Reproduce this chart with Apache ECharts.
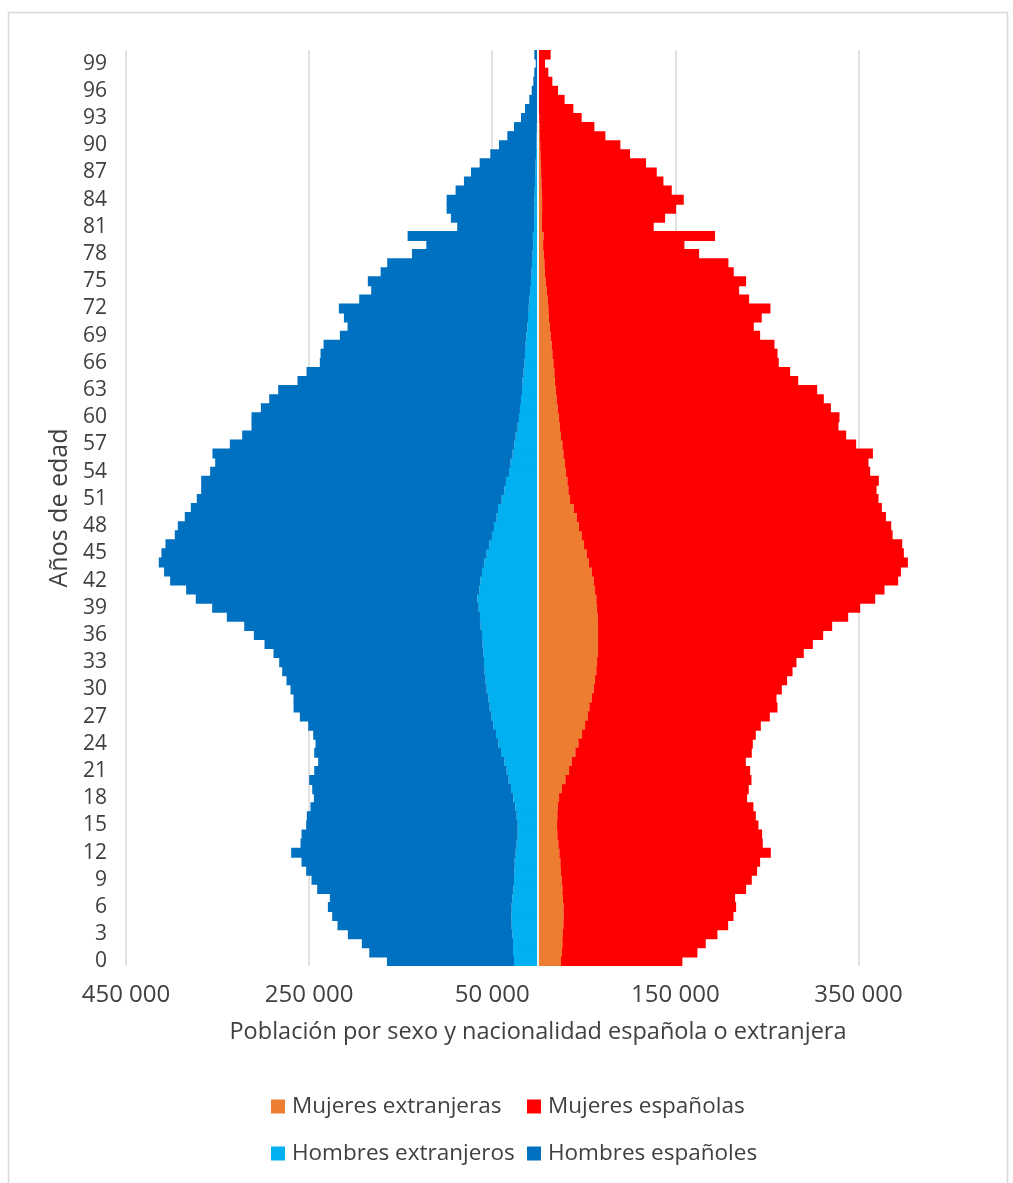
<!DOCTYPE html>
<html>
<head>
<meta charset="utf-8">
<script src="https://cdn.jsdelivr.net/npm/echarts@6/dist/echarts.min.js"></script>
<style>
html,body{margin:0;padding:0;background:#fff;}
#chart{width:1013px;height:1183px;}
</style>
</head>
<body>
<div id="chart"></div>
<script>
// Ages 0 .. 100 (the top row, 100, is "100 y más")
const edades = ["0","1","2","3","4","5","6","7","8","9","10","11","12","13","14","15","16","17","18","19","20","21","22","23","24","25","26","27","28","29","30","31","32","33","34","35","36","37","38","39","40","41","42","43","44","45","46","47","48","49","50","51","52","53","54","55","56","57","58","59","60","61","62","63","64","65","66","67","68","69","70","71","72","73","74","75","76","77","78","79","80","81","82","83","84","85","86","87","88","89","90","91","92","93","94","95","96","97","98","99","100"];

const hombresEspanoles = [138800,157000,165100,179600,190200,195700,200700,199200,214200,221200,
227300,232800,245200,236100,236100,231000,229200,223700,217800,217100,
217800,210200,203300,204000,199700,199600,202200,209100,214200,212700,
214200,217500,221100,223700,229100,238200,249200,258200,276500,291100,
307500,320200,338800,347200,355500,355200,353700,346400,345300,340600,
335500,333000,331100,332900,326400,322700,327900,310700,298700,290700,
292100,283000,275000,266300,245900,237100,223400,223300,220700,203700,
196300,201100,207300,185800,173500,178200,164800,158100,131800,116600,
136800,83900,91000,95800,95900,86400,77700,70300,61100,49900,
40700,31900,24900,17600,13400,8900,6450,4750,3750,2350,3800];

const hombresExtranjeros = [26200,27300,27300,28100,28800,29100,28800,28100,27000,26200,
25900,25500,24400,23300,22200,22200,23300,24800,27000,29500,
32100,34200,36800,40400,43300,45900,48800,51000,52800,54300,
56100,57200,58300,59000,59800,60500,61200,62700,63400,64800,
66300,64100,63000,61200,58700,56100,53200,50300,48100,45200,
43700,39700,36800,35000,31700,29900,27700,25900,24400,22200,
20800,19700,18600,17500,16800,15700,14900,14200,13500,12700,
11700,10900,10200,9500,8700,7650,7100,6600,5900,5400,
5600,4300,4100,4000,3900,3600,3200,2900,2600,2200,
1900,1600,1300,1000,800,600,450,350,250,150,200];

const mujeresExtranjeras = [25100,26200,26600,26900,27700,28000,28000,27300,26600,25900,
25100,24400,23300,22200,21100,20800,21100,21500,23000,26200,
29900,33900,36800,40800,44100,48100,51400,54300,56100,58700,
60800,62300,63700,64500,65600,65600,65600,65600,65200,64500,
63700,62300,60800,58700,55700,53200,50300,47700,44800,42300,
39000,35000,33200,32100,30600,29500,27700,26600,25100,24000,
23000,21500,20400,19700,18600,17800,16800,15700,14900,13800,
13100,12000,11300,10600,9500,8500,7600,7000,6200,5600,
6000,4300,4400,4500,4500,4100,3700,3400,3100,2700,
2400,2000,1700,1300,1000,800,600,450,350,200,300];

const mujeresEspanolas = [132600,147900,156600,169100,180000,185500,188400,188000,200700,207600,
214200,218200,231000,223300,223700,220000,216800,213800,205400,204000,
203300,197800,190200,192700,190500,189800,192000,198900,205500,201800,
205500,209800,214300,217800,224700,234600,245900,255700,273600,287400,
304600,316200,332600,337700,348300,346400,347500,339600,341000,337700,
336600,336900,336600,340200,332200,331500,338100,320900,311500,304200,
306300,298400,291800,285200,265600,257600,246200,245900,243400,228800,
222600,232400,242600,220000,210200,218800,206200,201000,169800,154300,
187400,122100,134400,146300,154700,142000,133300,126300,114900,97800,
87600,71600,59900,46400,37600,28300,21300,15250,10950,7450,13500];

const nombres = {
  me: 'Mujeres extranjeras',
  mE: 'Mujeres españolas',
  he: 'Hombres extranjeros',
  hE: 'Hombres españoles'
};
const colores = { me: '#ED7D31', mE: '#FF0000', he: '#00B0F0', hE: '#0070C0' };
const ejeX = { min: -450000, max: 450000, interval: 200000 };
const tituloX = 'Población por sexo y nacionalidad española o extranjera';
const tituloY = 'Años de edad';

const FONT = '"Open Sans", Lato, sans-serif';
const TXT = '#404040';

function fmt(v) {
  return String(Math.abs(v)).replace(/\B(?=(\d{3})+(?!\d))/g, ' ');
}

const chart = echarts.init(document.getElementById('chart'), null, {renderer: 'canvas'});

const legendBase = {
  orient: 'horizontal', padding: 0, itemWidth: 14, itemHeight: 14, icon: 'rect',
  selectedMode: false,
  textStyle: { fontSize: 22.5, color: TXT, fontFamily: FONT, padding: [0, 0, 0, 2] }
};

const BAR_W = 10; // slightly wider than the 9.07 px band so rows touch without seams

function serie(key, data) {
  return {
    name: nombres[key], type: 'bar', stack: 'p', barWidth: BAR_W,
    itemStyle: { color: colores[key] },
    data: data
  };
}

const sHe = serie('he', hombresExtranjeros.map(v => -v));
sHe.markLine = {
  silent: true, symbol: 'none', label: { show: false },
  lineStyle: { color: '#f2f2f2', width: 2, type: 'solid' },
  data: [{ xAxis: 0 }]
};

const option = {
  backgroundColor: '#ffffff',
  animation: false,
  textStyle: { fontFamily: FONT },
  grid: { left: 126, right: 63, top: 50, bottom: 217, containLabel: false },
  legend: [
    Object.assign({}, legendBase, { data: [nombres.me], left: 271, top: 1095 }),
    Object.assign({}, legendBase, { data: [nombres.mE], left: 527, top: 1095 }),
    Object.assign({}, legendBase, { data: [nombres.he], left: 271, top: 1142 }),
    Object.assign({}, legendBase, { data: [nombres.hE], left: 527, top: 1142 })
  ],
  xAxis: {
    type: 'value',
    min: ejeX.min, max: ejeX.max, interval: ejeX.interval,
    axisLine: { show: false },
    axisTick: { show: false },
    axisLabel: {
      formatter: fmt, showMaxLabel: false, fontSize: 24, color: TXT,
      fontFamily: FONT, margin: 17
    },
    splitLine: { show: true, showMaxLine: false, lineStyle: { color: '#d9d9d9', width: 1.5 } }
  },
  yAxis: {
    type: 'category',
    data: edades,
    axisLine: { show: false },
    axisTick: { show: false },
    axisLabel: { interval: 2, fontSize: 21, color: TXT, fontFamily: FONT, margin: 19 },
    splitLine: { show: false }
  },
  series: [
    sHe,
    serie('hE', hombresEspanoles.map(v => -v)),
    serie('me', mujeresExtranjeras),
    serie('mE', mujeresEspanolas)
  ],
  graphic: [
    {
      type: 'rect', silent: true, z: -1,
      shape: { x: 8.5, y: 12.5, width: 999, height: 1200 },
      style: { fill: 'none', stroke: '#d9d9d9', lineWidth: 1.5 }
    },
    {
      type: 'text', silent: true, x: 60, y: 508, rotation: Math.PI / 2,
      style: { text: tituloY, fontSize: 25, fill: TXT, fontFamily: FONT,
               align: 'center', verticalAlign: 'middle' }
    },
    {
      type: 'text', silent: true, x: 538, y: 1032,
      style: { text: tituloX, fontSize: 23.5, fill: TXT, fontFamily: FONT,
               align: 'center', verticalAlign: 'middle' }
    }
  ]
};

chart.setOption(option);
</script>
</body>
</html>
